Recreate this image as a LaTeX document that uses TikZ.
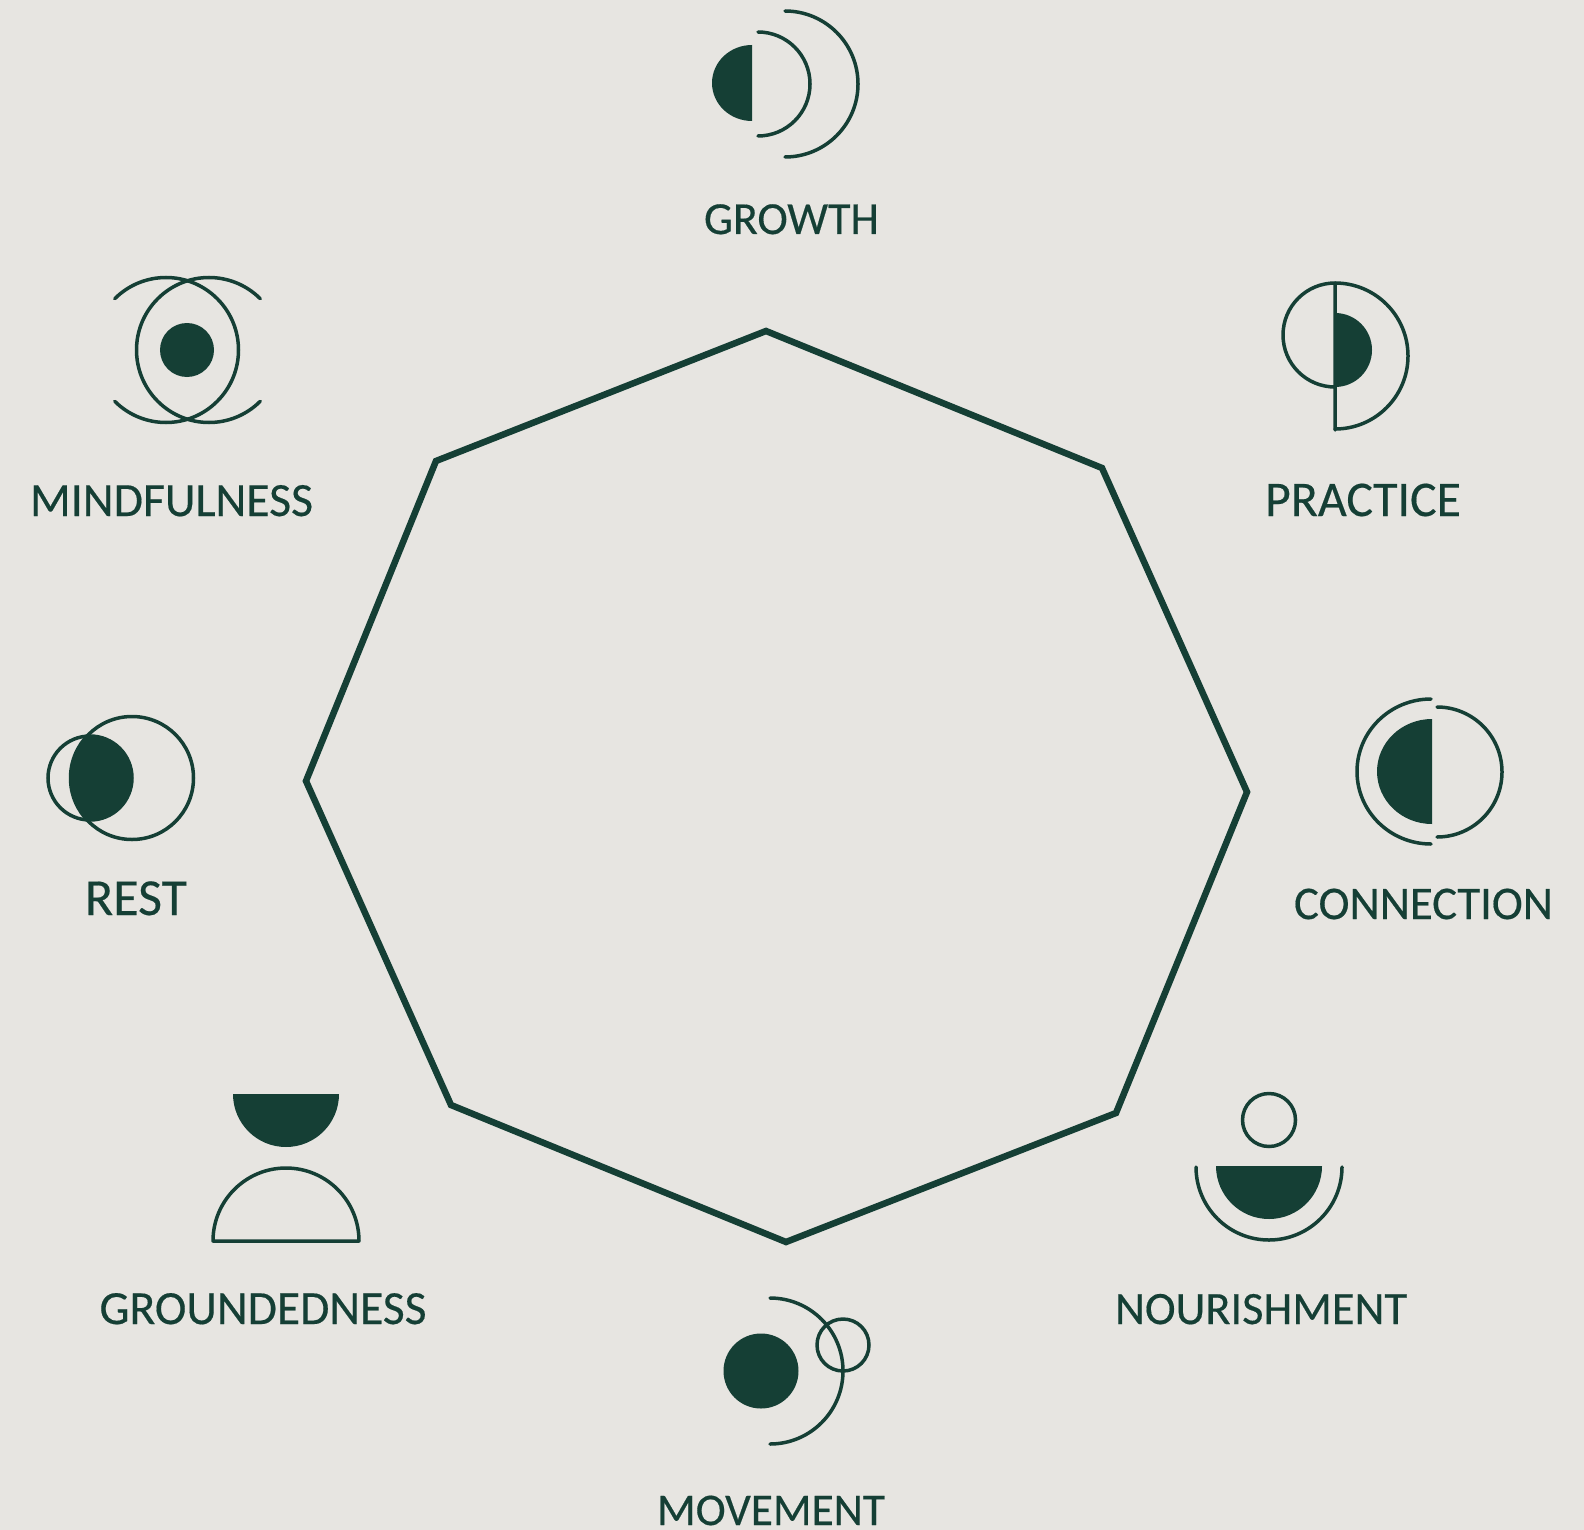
\documentclass[tikz,border=0pt]{standalone}
\usepackage{fontspec}
\setmainfont{Carlito}
\newfontfamily\lblfont[FakeBold=0.35]{Carlito}
\definecolor{paper}{HTML}{E7E5E1}
\definecolor{ink}{HTML}{153F35}
\newcommand{\lbltext}[2]{\resizebox{#1pt}{!}{\fontsize{46}{50}\selectfont\lblfont #2}}
\tikzset{
  line/.style={draw=ink,line width=3.5pt,line cap=round,fill=none},
  solid shape/.style={fill=ink,draw=none},
  oct/.style={draw=ink,line width=6.5pt,line join=miter,fill=none},
  lbl/.style={text=ink,inner sep=0pt,outer sep=0pt,anchor=base}
}
\begin{document}
\begin{tikzpicture}[x=1pt,y=1pt,yscale=-1]
\useasboundingbox[fill=paper] (0,0) rectangle (1584,1530);
% octagon
\coordinate (o1) at (766,331);
\coordinate (o2) at (1102,468);
\coordinate (o3) at (1247,792);
\coordinate (o4) at (1116,1113);
\coordinate (o5) at (786,1242);
\coordinate (o6) at (451,1105);
\coordinate (o7) at (306,781);
\coordinate (o8) at (436,461);
\draw[oct] (o1) -- (o2) -- (o3) -- (o4) -- (o5) -- (o6) -- (o7) -- (o8) -- cycle;
% growth
\fill[solid shape] (752,45) arc[start angle=-90,end angle=-270,x radius=40pt,y radius=38pt] -- cycle;
\draw[line] (758,32) arc[start angle=-90,end angle=90,radius=52pt];
\draw[line] (785,11) arc[start angle=-90,end angle=90,radius=73pt];
\node[lbl] (growth) at (791.5,234) {\lbltext{175}{GROWTH}};
% mindfulness
\fill[solid shape] (187,350) circle (27pt);
\draw[line] (209,350) ++(45:72.5pt) arc[start angle=45,end angle=315,radius=72.5pt];
\draw[line] (166,350) ++(135:72.5pt) arc[start angle=135,end angle=-135,radius=72.5pt];
\node[lbl] (mindfulness) at (171.5,516) {\lbltext{283}{MINDFULNESS}};
% practice
\fill[solid shape] (1335,313) arc[start angle=-90,end angle=90,radius=37pt] -- cycle;
\draw[line,line join=round] (1335,430) -- (1335,283) arc[start angle=-90,end angle=-270,radius=52pt];
\draw[line,line join=round] (1335,283) arc[start angle=-90,end angle=90,radius=73pt];
\node[lbl] (practice) at (1363,516) {\lbltext{196}{PRACTICE}};
% connection
\fill[solid shape] (1432,719) arc[start angle=-90,end angle=-270,x radius=55pt,y radius=52.5pt] -- cycle;
\draw[line] (1431,699) arc[start angle=-90,end angle=-270,x radius=74pt,y radius=72.5pt];
\draw[line] (1437,707) arc[start angle=-90,end angle=90,radius=65pt];
\node[lbl] (connection) at (1423.5,919) {\lbltext{259}{CONNECTION}};
% nourishment
\draw[line] (1269,1120) circle (26.5pt);
\fill[solid shape] (1216,1166) arc[start angle=180,end angle=0,radius=53pt] -- cycle;
\draw[line] (1196,1167) arc[start angle=180,end angle=0,radius=73pt];
\node[lbl] (nourishment) at (1261,1324) {\lbltext{292}{NOURISHMENT}};
% movement
\fill[solid shape] (761,1371) circle (37.5pt);
\draw[line] (770,1298) arc[start angle=-90,end angle=90,radius=73pt];
\draw[line] (843,1345) circle (26pt);
\node[lbl] (movement) at (771,1525) {\lbltext{228}{MOVEMENT}};
% groundedness
\fill[solid shape] (233,1094) arc[start angle=180,end angle=0,radius=53pt] -- cycle;
\draw[line,line join=round] (213,1241) arc[start angle=180,end angle=360,radius=73pt] -- cycle;
\node[lbl] (groundedness) at (263,1324) {\lbltext{327}{GROUNDEDNESS}};
% rest
\begin{scope}
\clip (90,778) circle (42pt);
\fill[solid shape] (132,778) circle (62pt);
\end{scope}
\draw[line] (132,778) circle (61.5pt);
\draw[line] (90,778) circle (42pt);
\node[lbl] (rest) at (136,915) {\lbltext{102}{REST}};
\end{tikzpicture}
\end{document}
